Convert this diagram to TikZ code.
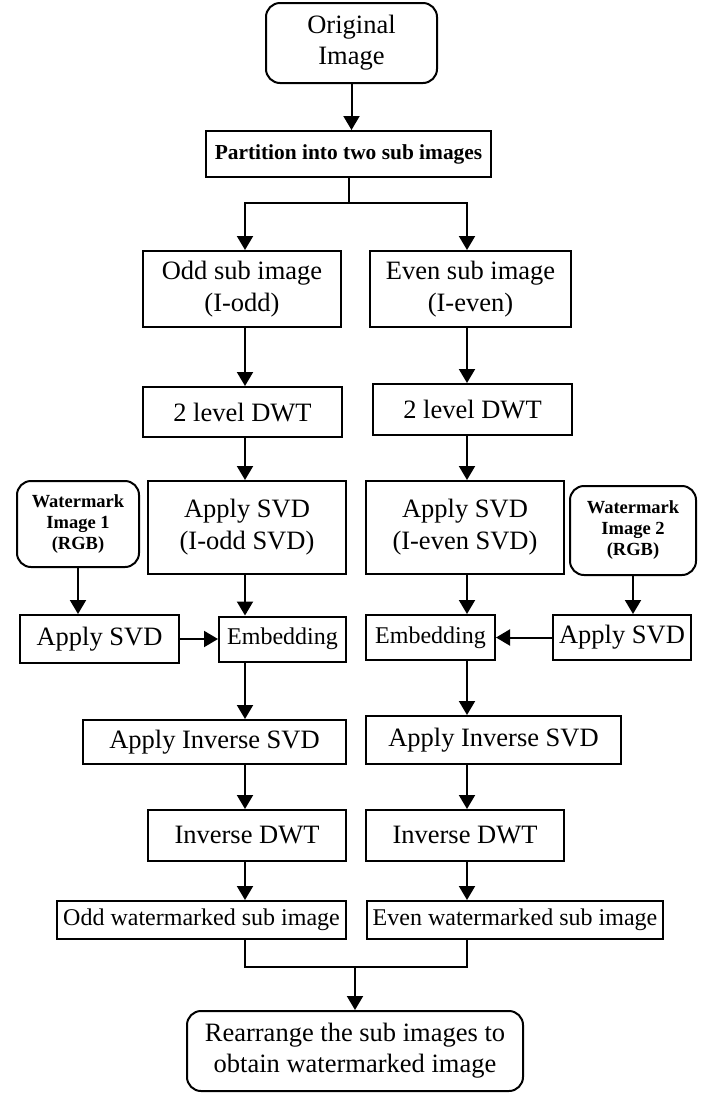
\documentclass[tikz,border=0pt]{standalone}
\usepackage{fontspec}
\setmainfont{Liberation Serif}
\usetikzlibrary{arrows.meta}

\begin{document}
\begin{tikzpicture}[x=0.5pt,y=-0.5pt]
	%defines
	\tikzstyle{startStop} = [rectangle, rounded corners=7pt, draw=black, line width=1pt, align=center, inner sep=0pt, font=\fontsize{13.25pt}{15.5pt}\selectfont]
	\tikzstyle{process} = [rectangle, draw=black, line width=1pt, align=center, inner sep=0pt, font=\fontsize{13.25pt}{16pt}\selectfont]
	\tikzstyle{partition} = [process, font=\bfseries\fontsize{10.7pt}{12pt}\selectfont]
	\tikzstyle{watermark} = [startStop, font=\bfseries\fontsize{9.25pt}{10.5pt}\selectfont]
	\tikzstyle{smallProcess} = [process, font=\fontsize{12pt}{14pt}\selectfont]
	\tikzstyle{arrow} = [line width=1pt,-{Triangle[length=7pt,width=8pt]}]
	\tikzstyle{line} = [line width=1pt]
	\useasboundingbox (0,0) rectangle (703,1093);
	\coordinate (colL) at (245,0);
	\coordinate (colR) at (467,0);
	\coordinate (split) at (345.5,203);
	\coordinate (merge) at (355,967);
	%chart
	\node (orig) [startStop, minimum width=85.5pt, minimum height=40pt] at (351.5,43) {Original\\Image};
	\node (part) [partition, minimum width=142.5pt, minimum height=23pt] at (348.5,154) {Partition into two sub images};
	\node (oddImg) [process, minimum width=99pt, minimum height=38pt] at (242,289) {Odd sub image\\(I-odd)};
	\node (evenImg) [process, minimum width=100.5pt, minimum height=38pt] at (470.5,289) {Even sub image\\(I-even)};
	\node (dwtOdd) [process, minimum width=99.5pt, minimum height=25pt] at (242.5,412) {2 level DWT};
	\node (dwtEven) [process, minimum width=99.5pt, minimum height=25.5pt] at (472.5,409.5) {2 level DWT};
	\node (svdOdd) [process, minimum width=99pt, minimum height=46.5pt] at (247,527.5) {Apply SVD\\(I-odd SVD)};
	\node (svdEven) [process, minimum width=99pt, minimum height=46.5pt] at (465,527.5) {Apply SVD\\(I-even SVD)};
	\node (wmOne) [watermark, minimum width=61pt, minimum height=43pt] at (78,524) {Watermark\\Image 1\\(RGB)};
	\node (wmTwo) [watermark, minimum width=63pt, minimum height=44.5pt] at (633,530.5) {Watermark\\Image 2\\(RGB)};
	\node (svdWmOne) [process, minimum width=79.5pt, minimum height=24pt] at (99.5,639) {Apply SVD};
	\node (embOdd) [smallProcess, minimum width=63.5pt, minimum height=22.5pt] at (282.5,639) {Embedding};
	\node (embEven) [smallProcess, minimum width=64.5pt, minimum height=22.5pt] at (430.5,637.5) {Embedding};
	\node (svdWmTwo) [process, minimum width=69pt, minimum height=22.5pt] at (622,637.5) {Apply SVD};
	\node (invSvdOdd) [process, minimum width=131.5pt, minimum height=22pt] at (214.5,742) {Apply Inverse SVD};
	\node (invSvdEven) [process, minimum width=127.5pt, minimum height=24pt] at (493.5,740) {Apply Inverse SVD};
	\node (idwtOdd) [process, minimum width=99pt, minimum height=25.5pt] at (247,835.5) {Inverse DWT};
	\node (idwtEven) [process, minimum width=99pt, minimum height=25.5pt] at (465,835.5) {Inverse DWT};
	\node (outOdd) [smallProcess, minimum width=144.5pt, minimum height=19pt] at (201.5,920) {Odd watermarked sub image};
	\node (outEven) [smallProcess, minimum width=148pt, minimum height=19pt] at (515,920) {Even watermarked sub image};
	\node (final) [startStop, minimum width=168pt, minimum height=40pt] at (355,1051) {Rearrange the sub images to\\obtain watermarked image};
	%arrows
	\draw [arrow] (orig.south) -- (orig.south |- part.north);
	\draw [line] (part.south) -- (part.south |- split);
	\draw [arrow] (part.south |- split) -| (oddImg.north -| colL);
	\draw [arrow] (part.south |- split) -| (evenImg.north -| colR);
	\path [arrow] (oddImg.south -| colL) edge (dwtOdd.north -| colL) (dwtOdd.south -| colL) edge (svdOdd.north -| colL) (svdOdd.south -| colL) edge (embOdd.north -| colL) (embOdd.south -| colL) edge (invSvdOdd.north -| colL) (invSvdOdd.south -| colL) edge (idwtOdd.north -| colL) (idwtOdd.south -| colL) edge (outOdd.north -| colL);
	\path [arrow] (evenImg.south -| colR) edge (dwtEven.north -| colR) (dwtEven.south -| colR) edge (svdEven.north -| colR) (svdEven.south -| colR) edge (embEven.north -| colR) (embEven.south -| colR) edge (invSvdEven.north -| colR) (invSvdEven.south -| colR) edge (idwtEven.north -| colR) (idwtEven.south -| colR) edge (outEven.north -| colR);
	\draw [arrow] (wmOne.south) -- (wmOne.south |- svdWmOne.north);
	\draw [arrow] (wmTwo.south) -- (wmTwo.south |- svdWmTwo.north);
	\draw [arrow] (svdWmOne.east) -- (svdWmOne.east -| embOdd.west);
	\draw [arrow] (svdWmTwo.west) -- (svdWmTwo.west -| embEven.east);
	\draw [line] (outOdd.south -| colL) |- (merge) -| (outEven.south -| colR);
	\draw [arrow] (merge) -- (final);
\end{tikzpicture}
\end{document}
